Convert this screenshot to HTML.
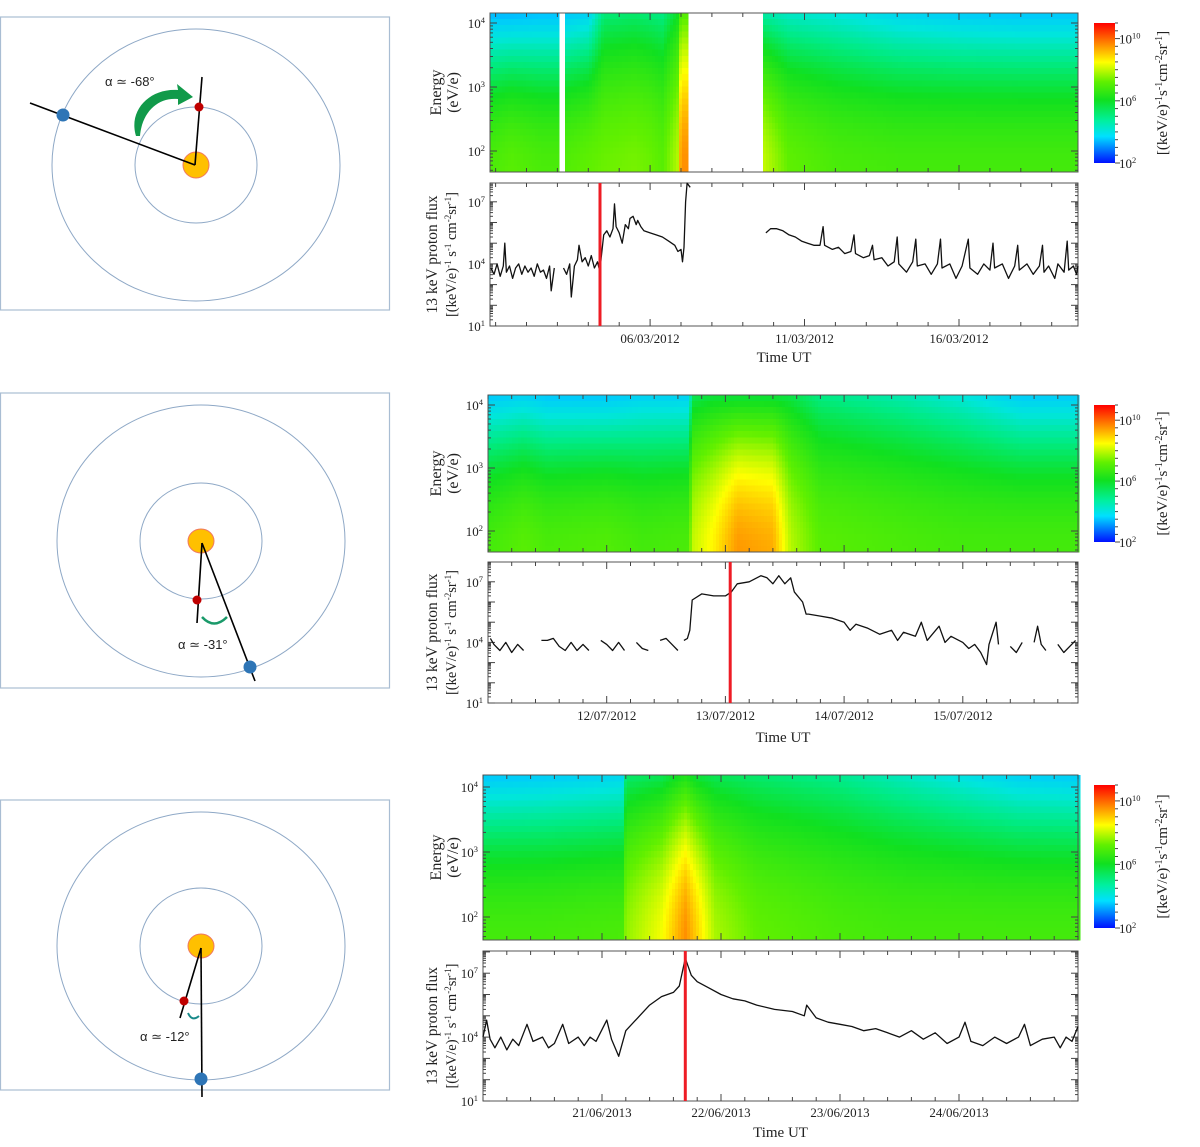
<!DOCTYPE html>
<html><head><meta charset="utf-8">
<style>
html,body{margin:0;padding:0;background:#fff;}
svg{display:block;}
.serif{font-family:"Liberation Serif",serif;}
.sans{font-family:"Liberation Sans",sans-serif;}
</style></head>
<body>
<svg id="fig" width="1200" height="1147" viewBox="0 0 1200 1147" xmlns="http://www.w3.org/2000/svg">
  <defs>
    <linearGradient id="cbar" x1="0" y1="1" x2="0" y2="0">
      <stop offset="0" stop-color="#0010ff"/>
      <stop offset="0.19" stop-color="#00e0ff"/>
      <stop offset="0.30" stop-color="#00f0a0"/>
      <stop offset="0.45" stop-color="#10e020"/>
      <stop offset="0.58" stop-color="#60f000"/>
      <stop offset="0.72" stop-color="#ffff00"/>
      <stop offset="0.86" stop-color="#ff8000"/>
      <stop offset="1" stop-color="#ff0000"/>
    </linearGradient>
  </defs>

  <g>
    <rect x="0.5" y="17" width="389" height="293" fill="#fff" stroke="#a9bdd3" stroke-width="1.2"/>
    <ellipse cx="196" cy="165" rx="144" ry="136" fill="none" stroke="#8ea8c6"/>
    <ellipse cx="196" cy="165" rx="61" ry="58" fill="none" stroke="#8ea8c6"/>
    <ellipse cx="196" cy="165" rx="13" ry="13" fill="#ffc000" stroke="#f07860"/>
    <line x1="195" y1="165" x2="30" y2="103" stroke="#000" stroke-width="1.6"/>
    <line x1="195" y1="165" x2="202" y2="77" stroke="#000" stroke-width="1.6"/>
    <circle cx="199" cy="107" r="4.5" fill="#c00000"/>
    <circle cx="63" cy="115" r="6.5" fill="#2e75b6"/>
    <path d="M136 136 C128 110 150 88 178 90 L177 84 L193 97 L178 105 L178 99 C158 97 142 112 140 136 Z" fill="#119a4a"/>
    <text x="105" y="86" class="sans" font-size="13" fill="#222">α ≃ -68°</text>
  </g>

  <g>
    <rect x="0.5" y="393" width="389" height="295" fill="#fff" stroke="#a9bdd3" stroke-width="1.2"/>
    <ellipse cx="201" cy="541" rx="144" ry="136" fill="none" stroke="#8ea8c6"/>
    <ellipse cx="201" cy="541" rx="61" ry="58" fill="none" stroke="#8ea8c6"/>
    <ellipse cx="201" cy="541" rx="13" ry="12" fill="#ffc000" stroke="#f07860"/>
    <line x1="202" y1="543" x2="255" y2="681" stroke="#000" stroke-width="1.6"/>
    <line x1="202" y1="543" x2="197" y2="623" stroke="#000" stroke-width="1.6"/>
    <circle cx="197" cy="600" r="4.5" fill="#c00000"/>
    <circle cx="250" cy="667" r="6.5" fill="#2e75b6"/>
    <path d="M202 617 Q214 630 227 617" fill="none" stroke="#1a9a6a" stroke-width="2.5"/>
    <text x="178" y="649" class="sans" font-size="13" fill="#222">α ≃ -31°</text>
  </g>

  <g>
    <rect x="0.5" y="800" width="389" height="290" fill="#fff" stroke="#a9bdd3" stroke-width="1.2"/>
    <ellipse cx="201" cy="946" rx="144" ry="134" fill="none" stroke="#8ea8c6"/>
    <ellipse cx="201" cy="946" rx="61" ry="58" fill="none" stroke="#8ea8c6"/>
    <ellipse cx="201" cy="946" rx="13" ry="12" fill="#ffc000" stroke="#f07860"/>
    <line x1="201" y1="948" x2="202" y2="1097" stroke="#000" stroke-width="1.6"/>
    <line x1="201" y1="948" x2="180" y2="1018" stroke="#000" stroke-width="1.6"/>
    <circle cx="184" cy="1001" r="4.5" fill="#c00000"/>
    <circle cx="201" cy="1079" r="6.5" fill="#2e75b6"/>
    <path d="M188 1013 Q192 1022 199 1016" fill="none" stroke="#1a8a8a" stroke-width="2"/>
    <text x="140" y="1041" class="sans" font-size="13" fill="#222">α ≃ -12°</text>
  </g>

  <g id="charts"></g>
</svg>

<script>
// ---------------- DATA ----------------
const spec1Times = [0.82,1.5,2.5,3.05,3.2,4.0,4.5,5.5,6.0,6.4,6.9,7.0,7.2,9.7,10.5,12,14,16,18,19.85];
const spec1Low   = [6.9,7.1,6.9,null,7.0,7.2,7.3,7.4,7.3,7.1,7.9,9.6,null,8.0,7.2,6.9,6.8,6.8,6.8,6.8];
const spec1High  = [3.5,3.5,3.6,null,3.7,3.9,5.3,5.4,5.3,5.2,6.0,7.0,null,4.9,4.6,4.4,4.0,3.8,3.7,3.7];
const flux1Times = [0.85,0.95,1.05,1.15,1.25,1.3,1.35,1.45,1.55,1.65,1.75,1.85,1.95,2.05,2.15,2.25,2.35,2.45,2.55,2.65,2.75,2.8,2.9,3.0,
 3.2,3.3,3.4,3.45,3.55,3.65,3.7,3.8,3.9,4.0,4.1,4.2,4.3,4.38,4.42,4.5,4.6,4.7,4.8,4.85,4.9,5.0,5.1,5.2,5.3,5.35,5.45,5.55,5.6,5.7,5.8,6.0,6.2,6.4,6.6,6.8,6.9,7.0,7.05,7.1,7.15,7.2,7.3,7.35,
 9.75,9.9,10.1,10.3,10.5,10.7,10.9,11.1,11.3,11.5,11.6,11.65,11.9,12.1,12.3,12.5,12.6,12.65,12.9,13.1,13.2,13.25,13.5,13.7,13.9,14.0,14.05,14.3,14.5,14.6,14.65,14.9,15.1,15.3,15.4,15.45,15.7,15.9,16.1,16.3,16.35,16.6,16.8,17.0,17.1,17.15,17.4,17.6,17.8,17.9,17.95,18.2,18.4,18.6,18.7,18.75,18.9,19.1,19.2,19.4,19.5,19.55,19.7,19.8,19.85];
const flux1Values = [3.8,3.5,4.0,3.4,3.9,5.0,3.6,3.9,3.3,3.8,4.0,3.5,3.9,3.6,3.8,3.4,4.0,3.6,3.7,3.3,3.9,2.7,3.8,null,
 3.8,3.5,4.0,2.4,3.9,4.2,4.9,4.1,4.3,3.9,4.4,3.8,4.1,3.6,4.3,5.4,5.6,5.3,5.7,6.9,5.8,5.5,5.0,5.9,5.7,6.2,6.3,5.9,6.1,5.8,5.6,5.5,5.4,5.3,5.1,4.9,4.6,4.7,4.1,4.8,7.0,7.9,7.7,null,
 5.5,5.7,5.7,5.6,5.4,5.3,5.1,5.0,4.9,4.9,5.8,4.9,4.7,4.8,4.5,4.6,5.4,4.5,4.3,4.4,4.9,4.2,4.3,3.9,4.1,5.3,4.0,3.6,4.1,5.2,3.9,4.0,3.5,4.0,5.2,3.8,4.0,3.3,3.9,5.2,3.8,3.5,4.0,3.7,5.0,3.8,4.0,3.3,3.9,4.9,3.7,4.0,3.5,3.9,4.9,3.6,3.9,3.3,4.0,3.6,5.1,3.7,3.9,3.5,3.9];
const date1Ticks = [6,11,16];
const date1Labels = ["06/03/2012","11/03/2012","16/03/2012"];
const event1Time = 4.38;

const spec2Times = [11.0,11.3,11.5,12.0,12.3,12.69,12.72,12.9,13.1,13.4,13.55,13.8,14.5,15.0,15.5,15.97];
const spec2Low   = [6.8,7.1,6.9,7.0,6.8,6.9,8.0,8.6,9.5,9.3,7.9,7.1,6.9,6.8,6.8,6.8];
const spec2High  = [3.7,3.9,3.7,3.7,3.9,3.9,5.6,5.8,5.8,5.8,5.7,5.2,4.8,4.4,3.8,3.8];
const flux2Times = [11.02,11.05,11.1,11.15,11.2,11.25,11.3,11.35,11.45,11.5,11.55,11.6,11.65,11.7,11.75,11.8,11.85,11.9,11.95,12.0,12.05,12.1,12.15,12.2,12.25,12.3,12.35,12.4,12.45,12.5,12.55,12.6,12.62,12.65,12.68,12.7,12.72,12.8,12.9,13.0,13.05,13.1,13.2,13.3,13.35,13.4,13.45,13.5,13.55,13.58,13.65,13.68,13.7,13.8,13.9,14.0,14.05,14.1,14.2,14.3,14.4,14.45,14.5,14.6,14.65,14.7,14.8,14.85,14.9,15.0,15.05,15.1,15.15,15.2,15.22,15.28,15.3,15.35,15.4,15.45,15.5,15.55,15.6,15.63,15.66,15.7,15.75,15.8,15.85,15.9,15.95];
const flux2Values = [4.2,3.9,3.6,4.0,3.5,3.9,3.6,null,4.1,4.1,4.2,3.8,3.6,4.0,3.6,3.9,3.6,null,4.1,3.9,3.6,4.0,3.6,null,4.0,3.7,3.6,null,4.1,4.2,3.9,3.6,null,4.1,4.2,4.6,6.1,6.4,6.3,6.3,6.5,6.9,7.0,7.3,7.2,6.9,7.3,6.9,7.2,6.5,6.0,5.4,5.4,5.3,5.2,5.0,4.6,4.9,4.7,4.4,4.6,4.1,4.5,4.3,5.0,4.1,4.8,4.0,4.3,4.0,3.7,3.9,3.5,2.9,3.9,5.0,3.9,null,3.8,3.5,4.0,null,4.0,4.8,3.9,3.6,null,3.9,3.5,3.8,4.1];
const date2Ticks = [12,13,14,15];
const date2Labels = ["12/07/2012","13/07/2012","14/07/2012","15/07/2012"];
const event2Time = 13.04;

const spec3Times = [20.0,20.5,21.18,21.2,21.5,21.7,21.8,21.95,22.3,23.0,23.5,24.0,24.5,25.0];
const spec3Low   = [6.8,6.8,6.9,7.6,8.4,9.6,8.9,7.8,7.2,6.9,6.8,6.8,6.8,6.8];
const spec3High  = [3.7,3.8,4.0,5.4,5.6,6.2,5.8,5.6,5.4,5.1,4.7,4.3,3.9,3.8];
const flux3Times = [20.0,20.03,20.06,20.1,20.15,20.2,20.25,20.3,20.37,20.42,20.5,20.55,20.6,20.67,20.72,20.8,20.85,20.9,20.95,21.04,21.08,21.14,21.2,21.3,21.4,21.5,21.6,21.65,21.7,21.75,21.8,21.9,22.0,22.1,22.2,22.3,22.45,22.6,22.7,22.72,22.8,22.9,23.0,23.1,23.2,23.3,23.4,23.5,23.6,23.7,23.8,23.9,24.0,24.05,24.1,24.2,24.3,24.4,24.5,24.55,24.6,24.7,24.8,24.85,24.9,24.95,25.0];
const flux3Values = [4.0,4.8,3.9,3.5,4.0,3.4,3.9,3.6,4.6,3.8,4.0,3.5,3.7,4.6,3.7,4.0,3.6,4.0,3.8,4.8,3.9,3.1,4.3,4.9,5.5,5.9,6.1,6.4,7.7,6.9,6.6,6.3,6.0,5.8,5.7,5.5,5.3,5.2,5.0,5.5,4.9,4.7,4.6,4.5,4.3,4.4,4.2,4.0,4.3,3.9,4.2,3.7,4.0,4.7,3.8,3.6,4.0,3.7,4.0,4.6,3.6,3.9,4.0,3.5,4.0,3.8,4.5];
const date3Ticks = [21,22,23,24];
const date3Labels = ["21/06/2013","22/06/2013","23/06/2013","24/06/2013"];
const event3Time = 21.7;

// ---------------- LAYOUT ----------------
const panels = [
 {id:1, sx0:490, sx1:1078, sy0:13, sy1:172, eY2:151, eDec:64, fy0:183, fy1:326, fDec:20.7, t0:0.82, t1:19.85, tickStep:1,
  cbY0:23, cbY1:163, st:spec1Times, lo:spec1Low, hi:spec1High, ft:flux1Times, fv:flux1Values, dt:date1Ticks, dl:date1Labels, ev:event1Time, labY:343, utY:362},
 {id:2, sx0:488, sx1:1078, sy0:395, sy1:552, eY2:531, eDec:63, fy0:562, fy1:703, fDec:20.2, t0:11, t1:15.97, tickStep:0.2,
  cbY0:405, cbY1:542, st:spec2Times, lo:spec2Low, hi:spec2High, ft:flux2Times, fv:flux2Values, dt:date2Ticks, dl:date2Labels, ev:event2Time, labY:720, utY:742},
 {id:3, sx0:483, sx1:1078, sy0:775, sy1:940, eY2:917, eDec:65, fy0:951, fy1:1101, fDec:21.3, t0:20, t1:25, tickStep:0.2,
  cbY0:785, cbY1:928, st:spec3Times, lo:spec3Low, hi:spec3High, ft:flux3Times, fv:flux3Values, dt:date3Ticks, dl:date3Labels, ev:event3Time, labY:1117, utY:1137}
];

const NS = "http://www.w3.org/2000/svg";
const root = document.getElementById("charts");
function mk(tag, attrs, parent){ const e=document.createElementNS(NS,tag); for(const k in attrs) e.setAttribute(k,attrs[k]); (parent||root).appendChild(e); return e; }

const cstops = [[0,[0,16,255]],[0.19,[0,200,255]],[0.27,[0,230,220]],[0.36,[0,235,130]],[0.45,[16,224,32]],[0.58,[96,240,0]],[0.72,[255,255,0]],[0.86,[255,128,0]],[1,[255,0,0]]];
function cmap(v){
  let n=(v-2)/9; n=Math.max(0,Math.min(1,n));
  for(let i=1;i<cstops.length;i++){ if(n<=cstops[i][0]){ const a=cstops[i-1],b=cstops[i]; const f=(n-a[0])/(b[0]-a[0]);
    return "rgb("+a[1].map((c,j)=>Math.round(c+(b[1][j]-c)*f)).join(",")+")"; } }
  return "rgb(255,0,0)";
}
function interp(ts, vs, t){
  for(let i=0;i<ts.length-1;i++){ if(t>=ts[i] && t<=ts[i+1]){ const a=vs[i],b=vs[i+1]; if(a===null) return null; if(b===null) return a; const f=(t-ts[i])/(ts[i+1]-ts[i]); return a+(b-a)*f; } }
  return vs[vs.length-1];
}
function sup(parent, x, y, base, exp, anchor, size){
  const t=mk("text",{x:x,y:y,"text-anchor":anchor||"end","font-size":size||13,class:"serif",fill:"#222"},parent);
  t.textContent=base;
  const s=mk("tspan",{"baseline-shift":"super","font-size":(size||13)*0.65},t); s.textContent=exp;
  return t;
}

panels.forEach(p=>{
  const g=mk("g",{});
  
  
  const xOf=t=>p.sx0+(t-p.t0)/(p.t1-p.t0)*(p.sx1-p.sx0);
  const eY=le=>p.eY2-(le-2)*p.eDec;
  const fY=lf=>p.fy1-(lf-1)*p.fDec;
  const leTop=2+(p.eY2-p.sy0)/p.eDec, leBot=2-(p.sy1-p.eY2)/p.eDec;

  const sg=mk("g",{"shape-rendering":"crispEdges"},g);
  
  
  const rows=26, colW=3;
  for(let x=p.sx0;x<p.sx1;x+=colW){
    const t=p.t0+(x+colW/2-p.sx0)/(p.sx1-p.sx0)*(p.t1-p.t0);
    const lo=interp(p.st,p.lo,t), hi=interp(p.st,p.hi,t);
    if(lo===null||hi===null) continue;
    const h=(p.sy1-p.sy0)/rows;
    for(let r=0;r<rows;r++){
      const f=(r+0.5)/rows;
      const le=leTop-(leTop-leBot)*f;
      const fr=(le-leBot)/(leTop-leBot);
      const v=lo+(hi-lo)*Math.pow(fr,1.8);
      const c=mk("rect",{x:x,y:(p.sy0+r*h).toFixed(2),width:colW+0.3,height:(h+0.4).toFixed(2),fill:cmap(v)},sg);
      
      
    }
  }
  const fr1=mk("rect",{x:p.sx0,y:p.sy0,width:p.sx1-p.sx0,height:p.sy1-p.sy0,fill:"none",stroke:"#555","stroke-width":1},g);
  
  
  const fr2=mk("rect",{x:p.sx0,y:p.fy0,width:p.sx1-p.sx0,height:p.fy1-p.fy0,fill:"none",stroke:"#555","stroke-width":1},g);
  
  

  const tg=mk("g",{stroke:"#444","stroke-width":1},g);
  
  
  const first=Math.ceil(p.t0/p.tickStep-1e-6)*p.tickStep;
  for(let t=first;t<=p.t1+1e-6;t+=p.tickStep){
    const x=xOf(t).toFixed(1);
    const major=Math.abs(t-Math.round(t))<1e-6 && p.dt.includes(Math.round(t));
    const L=major?7:4;
    [[p.sy0,L],[p.sy1,-L],[p.fy0,L],[p.fy1,-L]].forEach(([y,d])=>mk("line",{x1:x,y1:y,x2:x,y2:y+d},tg));
  }
  for(let d=1;d<=4;d++){ for(let m=1;m<10;m++){ const le=d+Math.log10(m); if(le<leBot||le>leTop) continue; const y=eY(le).toFixed(1); const L=m===1?7:3;
    mk("line",{x1:p.sx0,y1:y,x2:p.sx0+L,y2:y},tg); mk("line",{x1:p.sx1,y1:y,x2:p.sx1-L,y2:y},tg);} }
  const lfTop=1+(p.fy1-p.fy0)/p.fDec;
  for(let d=1;d<=8;d++){ for(let m=1;m<10;m++){ const lf=d+Math.log10(m); if(lf>lfTop) continue; const y=fY(lf).toFixed(1); const L=m===1?7:3;
    mk("line",{x1:p.sx0,y1:y,x2:p.sx0+L,y2:y},tg); mk("line",{x1:p.sx1,y1:y,x2:p.sx1-L,y2:y},tg);} }

  [2,3,4].forEach(d=>{ const t=sup(g,p.sx0-5,eY(d)+5,"10",String(d));   });
  [1,4,7].forEach(d=>{ const t=sup(g,p.sx0-5,fY(d)+5,"10",String(d));   });

  const ecy=(p.sy0+p.sy1)/2;
  const et=mk("text",{x:0,y:0,transform:`translate(441,${ecy}) rotate(-90)`,"text-anchor":"middle","font-size":16,class:"serif",fill:"#222"},g);
  et.textContent="Energy";
  
  
  const et2=mk("text",{x:0,y:0,transform:`translate(458,${ecy}) rotate(-90)`,"text-anchor":"middle","font-size":16,class:"serif",fill:"#222"},g);
  et2.textContent="(eV/e)";
  
  
  const fcy=(p.fy0+p.fy1)/2;
  const ft=mk("text",{x:0,y:0,transform:`translate(437,${fcy}) rotate(-90)`,"text-anchor":"middle","font-size":15.5,class:"serif",fill:"#222"},g);
  ft.textContent="13 keV proton flux";
  
  
  const ft2=mk("text",{x:0,y:0,transform:`translate(456,${fcy}) rotate(-90)`,"text-anchor":"middle","font-size":14.5,class:"serif",fill:"#222"},g);
  ft2.innerHTML='[(keV/e)<tspan baseline-shift="super" font-size="9">-1</tspan> s<tspan baseline-shift="super" font-size="9">-1</tspan> cm<tspan baseline-shift="super" font-size="9">-2</tspan>sr<tspan baseline-shift="super" font-size="9">-1</tspan>]';
  
  

  p.dt.forEach((t,i)=>{ const l=mk("text",{x:xOf(t),y:p.labY,"text-anchor":"middle","font-size":13,class:"serif",fill:"#222"},g);
    l.textContent=p.dl[i];
    
     });
  const ut=mk("text",{x:(p.sx0+p.sx1)/2,y:p.utY,"text-anchor":"middle","font-size":15,class:"serif",fill:"#222"},g);
  ut.textContent="Time UT";
  
  

  let d=""; let pen=false;
  p.ft.forEach((t,i)=>{ const v=p.fv[i]; if(v===null){pen=false;return;} d+=(pen?"L":"M")+xOf(t).toFixed(1)+" "+fY(v).toFixed(1); pen=true; });
  const fl=mk("path",{d:d,fill:"none",stroke:"#111","stroke-width":1.3,"stroke-linejoin":"round"},g);
  
  

  const ex=xOf(p.ev).toFixed(1);
  const el=mk("line",{x1:ex,y1:p.fy0,x2:ex,y2:p.fy1,stroke:"#ee1c25","stroke-width":3},g);
  
  

  const cb=mk("rect",{x:1094,y:p.cbY0,width:21,height:p.cbY1-p.cbY0,fill:"url(#cbar)"},g);
  
  
  const cbY=lv=>p.cbY1-(lv-2)/9*(p.cbY1-p.cbY0);
  for(let lv=2;lv<=11;lv+=0.5){ const y=cbY(lv).toFixed(1); mk("line",{x1:1115,y1:y,x2:1115+(Number.isInteger(lv)&&lv%4===2?5:3),y2:y,stroke:"#444"},tg); }
  [2,6,10].forEach(lv=>{ const t=sup(g,1119,cbY(lv)+5,"10",String(lv),"start",13);   });
  const ct=mk("text",{x:0,y:0,transform:`translate(1167,${(p.cbY0+p.cbY1)/2}) rotate(-90)`,"text-anchor":"middle","font-size":15,class:"serif",fill:"#222"},g);
  ct.innerHTML='[(keV/e)<tspan baseline-shift="super" font-size="10">-1</tspan>s<tspan baseline-shift="super" font-size="10">-1</tspan>cm<tspan baseline-shift="super" font-size="10">-2</tspan>sr<tspan baseline-shift="super" font-size="10">-1</tspan>]';
  
  
});
</script>
</body></html>
